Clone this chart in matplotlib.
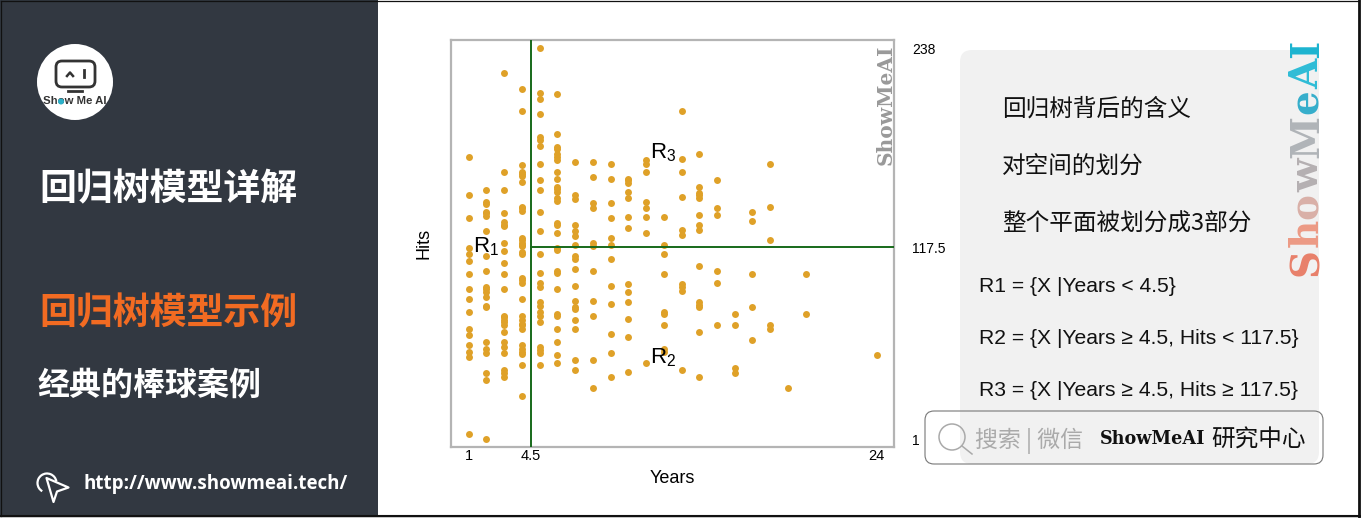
import matplotlib
matplotlib.use("Agg")
import matplotlib.pyplot as plt
from matplotlib.patches import Rectangle, FancyBboxPatch, Circle, Polygon, Arc

plt.rcParams['font.family'] = ['Noto Sans CJK SC', 'DejaVu Sans']
plt.rcParams['mathtext.default'] = 'regular'

# Hits per Years column
hits_by_year = {
    1: [172, 149, 135, 117, 113, 109, 101, 92, 86, 78, 68, 64, 58, 54, 51, 4],
    2: [152, 145, 143.5, 139, 138, 136.5, 127, 112, 103, 93, 92, 90.5, 87, 82, 81, 60, 56, 53, 41, 37, 1],
    3: [223, 163, 152, 138, 132.5, 131, 130, 120, 115, 108, 101, 92, 76, 75, 73, 72, 70, 66, 60, 57, 53, 43, 41, 39],
    4: [213, 200, 167, 163, 162, 160.5, 157, 142, 141, 139.5, 123, 122, 120, 119, 118, 114.5, 113, 99, 97.5, 96,
        86, 76, 73, 71, 70, 68, 58, 56, 54, 52.5, 46, 27],
    5: [238, 211, 207, 198, 184, 182.5, 179, 168, 158, 152, 139, 127, 113, 102, 96, 93, 84, 82, 78, 75.5, 72, 57,
        55, 53.5, 46],
    6: [210, 186, 178, 177, 174, 172, 170, 163, 159, 154, 152.5, 151, 147, 145.5, 132, 131, 126, 117, 116, 103, 102,
        92, 77, 75.5, 68, 60, 52, 47],
    7: [169, 149, 146.5, 131, 127, 124, 119, 112, 110, 104, 94, 85, 81, 80, 73, 68, 49, 43],
    8: [169, 160, 144, 141, 120, 118, 103, 85, 76, 49, 32],
    9: [168, 159, 144, 135, 123, 119, 110, 94, 83, 65, 53, 39],
    10: [159, 158, 156.5, 151, 147, 136, 129, 95, 90, 84, 74, 63, 42],
    11: [170, 168, 163, 145, 141, 136, 126, 47],
    12: [136, 119, 113, 101, 78, 77, 70, 56, 54],
    13: [200, 171, 163, 148, 128, 125, 95, 93, 91, 43],
    14: [174, 154, 150, 149, 147.5, 137, 131, 128, 106, 84, 82.5, 81, 66, 39],
    15: [158, 141, 137, 103, 96, 70],
    16: [77, 70, 44, 41],
    17: [139, 133, 101, 81, 61],
    18: [168, 142, 122, 70, 68],
    19: [32],
    20: [101, 77],
    24: [52],
}
years = [y for y, hs in hits_by_year.items() for _ in hs]
hits = [h for hs in hits_by_year.values() for h in hs]

split_years = 4.5
split_hits = 117.5
x_ticks = [1, 4.5, 24]
y_ticks = [1, 117.5, 238]

side_titles = ["回归树模型详解", "回归树模型示例", "经典的棒球案例"]
card_lines = ["回归树背后的含义", "对空间的划分", "整个平面被划分成3部分"]
rule_lines = ["R1 = {X |Years < 4.5}", "R2 = {X |Years ≥ 4.5, Hits < 117.5}", "R3 = {X |Years ≥ 4.5, Hits ≥ 117.5}"]
logo_letters = ["S", "h", "o", "w", "M", "e", "A", "I"]
logo_colors = ["#e8806a", "#ec9a85", "#d9b0a8", "#b5b0b2", "#b0b4b8", "#35aecb", "#2fbcd6", "#1cb4d0"]

W, H = 1361, 518
fig = plt.figure(figsize=(W / 100, H / 100), dpi=100, facecolor='white')

# page layer in pixel coordinates
bg = fig.add_axes([0, 0, 1, 1])
bg.set_xlim(0, W)
bg.set_ylim(H, 0)
bg.axis('off')

bg.add_patch(Rectangle((0, 0), 378, 516, fc='#323841', ec='none'))
# frame: thin top and left, heavier right and bottom, light strip under it
bg.add_patch(Rectangle((0, 516.5), W, 1.5, fc='#d0d0d0', ec='none'))
bg.plot([0.5, 1359.5], [0.5, 0.5], color='#111111', lw=0.9)
bg.plot([0.5, 0.5], [0.5, 516], color='#111111', lw=0.9)
bg.plot([1359.5, 1359.5], [0, 516.5], color='#111111', lw=2)
bg.plot([0, 1360], [515.5, 515.5], color='#111111', lw=1.5)

# logo
bg.add_patch(Circle((75, 82), 38, fc='white', ec='none'))
bg.add_patch(FancyBboxPatch((60, 65), 31, 18, boxstyle='round,pad=4,rounding_size=6', fc='none', ec='#333333', lw=2))
bg.plot([67, 70, 73], [76, 72.5, 76], color='#333333', lw=1.8)
bg.plot([84.5, 84.5], [70, 77], color='#333333', lw=2)
bg.plot([68, 82], [91, 91], color='#333333', lw=2)
bg.text(75, 100.5, "Show Me AI", ha='center', va='center', fontsize=8.2, fontweight='bold', color='#333333', family='Liberation Sans')
bg.add_patch(Circle((61, 101.5), 3, fc='#2bb0c9', ec='none', zorder=5))

bg.text(39.5, 190, side_titles[0], color='white', fontsize=26.6, fontweight='bold', va='center')
bg.text(39.5, 314, side_titles[1], color='#f26b22', fontsize=26.6, fontweight='bold', va='center')
bg.text(37.5, 386, side_titles[2], color='white', fontsize=23, fontweight='bold', va='center')

# cursor icon + url
bg.add_patch(Polygon([(46.5, 478), (68.5, 487.5), (57, 491.5), (53.5, 502)], closed=True, fc='none', ec='white', lw=1.6, joinstyle='round'))
bg.add_patch(Arc((47, 483), 19, 19, theta1=120, theta2=350, ec='white', lw=1.6))
bg.text(84, 484, "http://www.showmeai.tech/", color='white', fontsize=13.5, fontweight='bold', va='center', family='Open Sans')

# right card
bg.add_patch(FancyBboxPatch((970, 60), 339, 394, boxstyle='round,pad=10,rounding_size=12', fc='#f1f1f1', ec='none'))
for line, y in zip(card_lines, [109, 166, 224]):
    bg.text(1002, y, line, fontsize=17, color='#111111', va='center')
for line, y in zip(rule_lines, [287, 339, 390]):
    bg.text(979, y, line, fontsize=15.2, color='#111111', va='center', family=['Liberation Sans', 'DejaVu Sans'])

# search box
bg.add_patch(FancyBboxPatch((932, 418), 384, 39, boxstyle='round,pad=7,rounding_size=9', fc='none', ec='#777777', lw=0.8))
bg.add_patch(Circle((952, 437), 13, fc='none', ec='#aaaaaa', lw=1.1))
bg.plot([962, 972], [446, 454], color='#aaaaaa', lw=1.1)
bg.text(975.5, 441, "搜索 | 微信", fontsize=16.5, color='#aaaaaa', va='center')
bg.text(1100, 439, "ShowMeAI", fontsize=12.7, fontweight='bold', color='#111111', va='center', family='DejaVu Serif')
bg.text(1211, 440, "研究中心", fontsize=17, color='#111111', va='center')

# coloured vertical wordmark, one letter on top of the other
renderer = fig.canvas.get_renderer()
y_pos = 276
for letter, color in zip(logo_letters, logo_colors):
    t = bg.text(1307, y_pos, letter, rotation=90, fontsize=28, fontweight='bold', color=color,
                family='DejaVu Serif', ha='center', va='bottom')
    box = t.get_window_extent(renderer)
    y_pos -= box.height * 1.02

# scatter panel
ax = fig.add_axes([451 / W, 1 - 447.3 / H, (894.3 - 451) / W, (447.3 - 40) / H])
ax.set_xlim(0, 25)
ax.set_ylim(-3.85, 243)
ax.scatter(years, hits, s=25, color='#dfa128', linewidths=0, zorder=2)
ax.axvline(split_years, color='#17691a', lw=1.4, zorder=3)
ax.plot([split_years, 25], [split_hits, split_hits], color='#17691a', lw=1.4, zorder=3)

for spine in ax.spines.values():
    spine.set_color('#b4b4b4')
    spine.set_linewidth(1.6)

ax.set_xticks(x_ticks)
ax.set_xticklabels(['1', '4.5', '24'], fontsize=10.5, family='Liberation Sans')
ax.yaxis.tick_right()
ax.set_yticks(y_ticks)
ax.set_yticklabels(['1', '117.5', '238'], fontsize=10, family='Liberation Sans')
ax.tick_params(axis='x', length=0, pad=1)
ax.tick_params(axis='y', length=0, pad=13)
ax.set_xlabel("Years", fontsize=13, family='Liberation Sans', labelpad=5)
ax.set_ylabel("Hits", fontsize=13, family='Liberation Sans', labelpad=13)
ax.yaxis.set_label_position('left')

for label, xv, yv in [(r'R$_1$', 1.22, 117.5), (r'R$_2$', 11.25, 50.5), (r'R$_3$', 11.25, 174.5)]:
    ax.text(xv, yv, label, fontsize=16, family='Liberation Sans', color='black', va='center', zorder=4)

ax.text(0.98, 0.988, "ShowMeAI", transform=ax.transAxes, rotation=90, fontsize=14.5, fontweight='bold',
        color='#999999', family='DejaVu Serif', ha='center', va='top')

fig.savefig("out.png", dpi=100)
